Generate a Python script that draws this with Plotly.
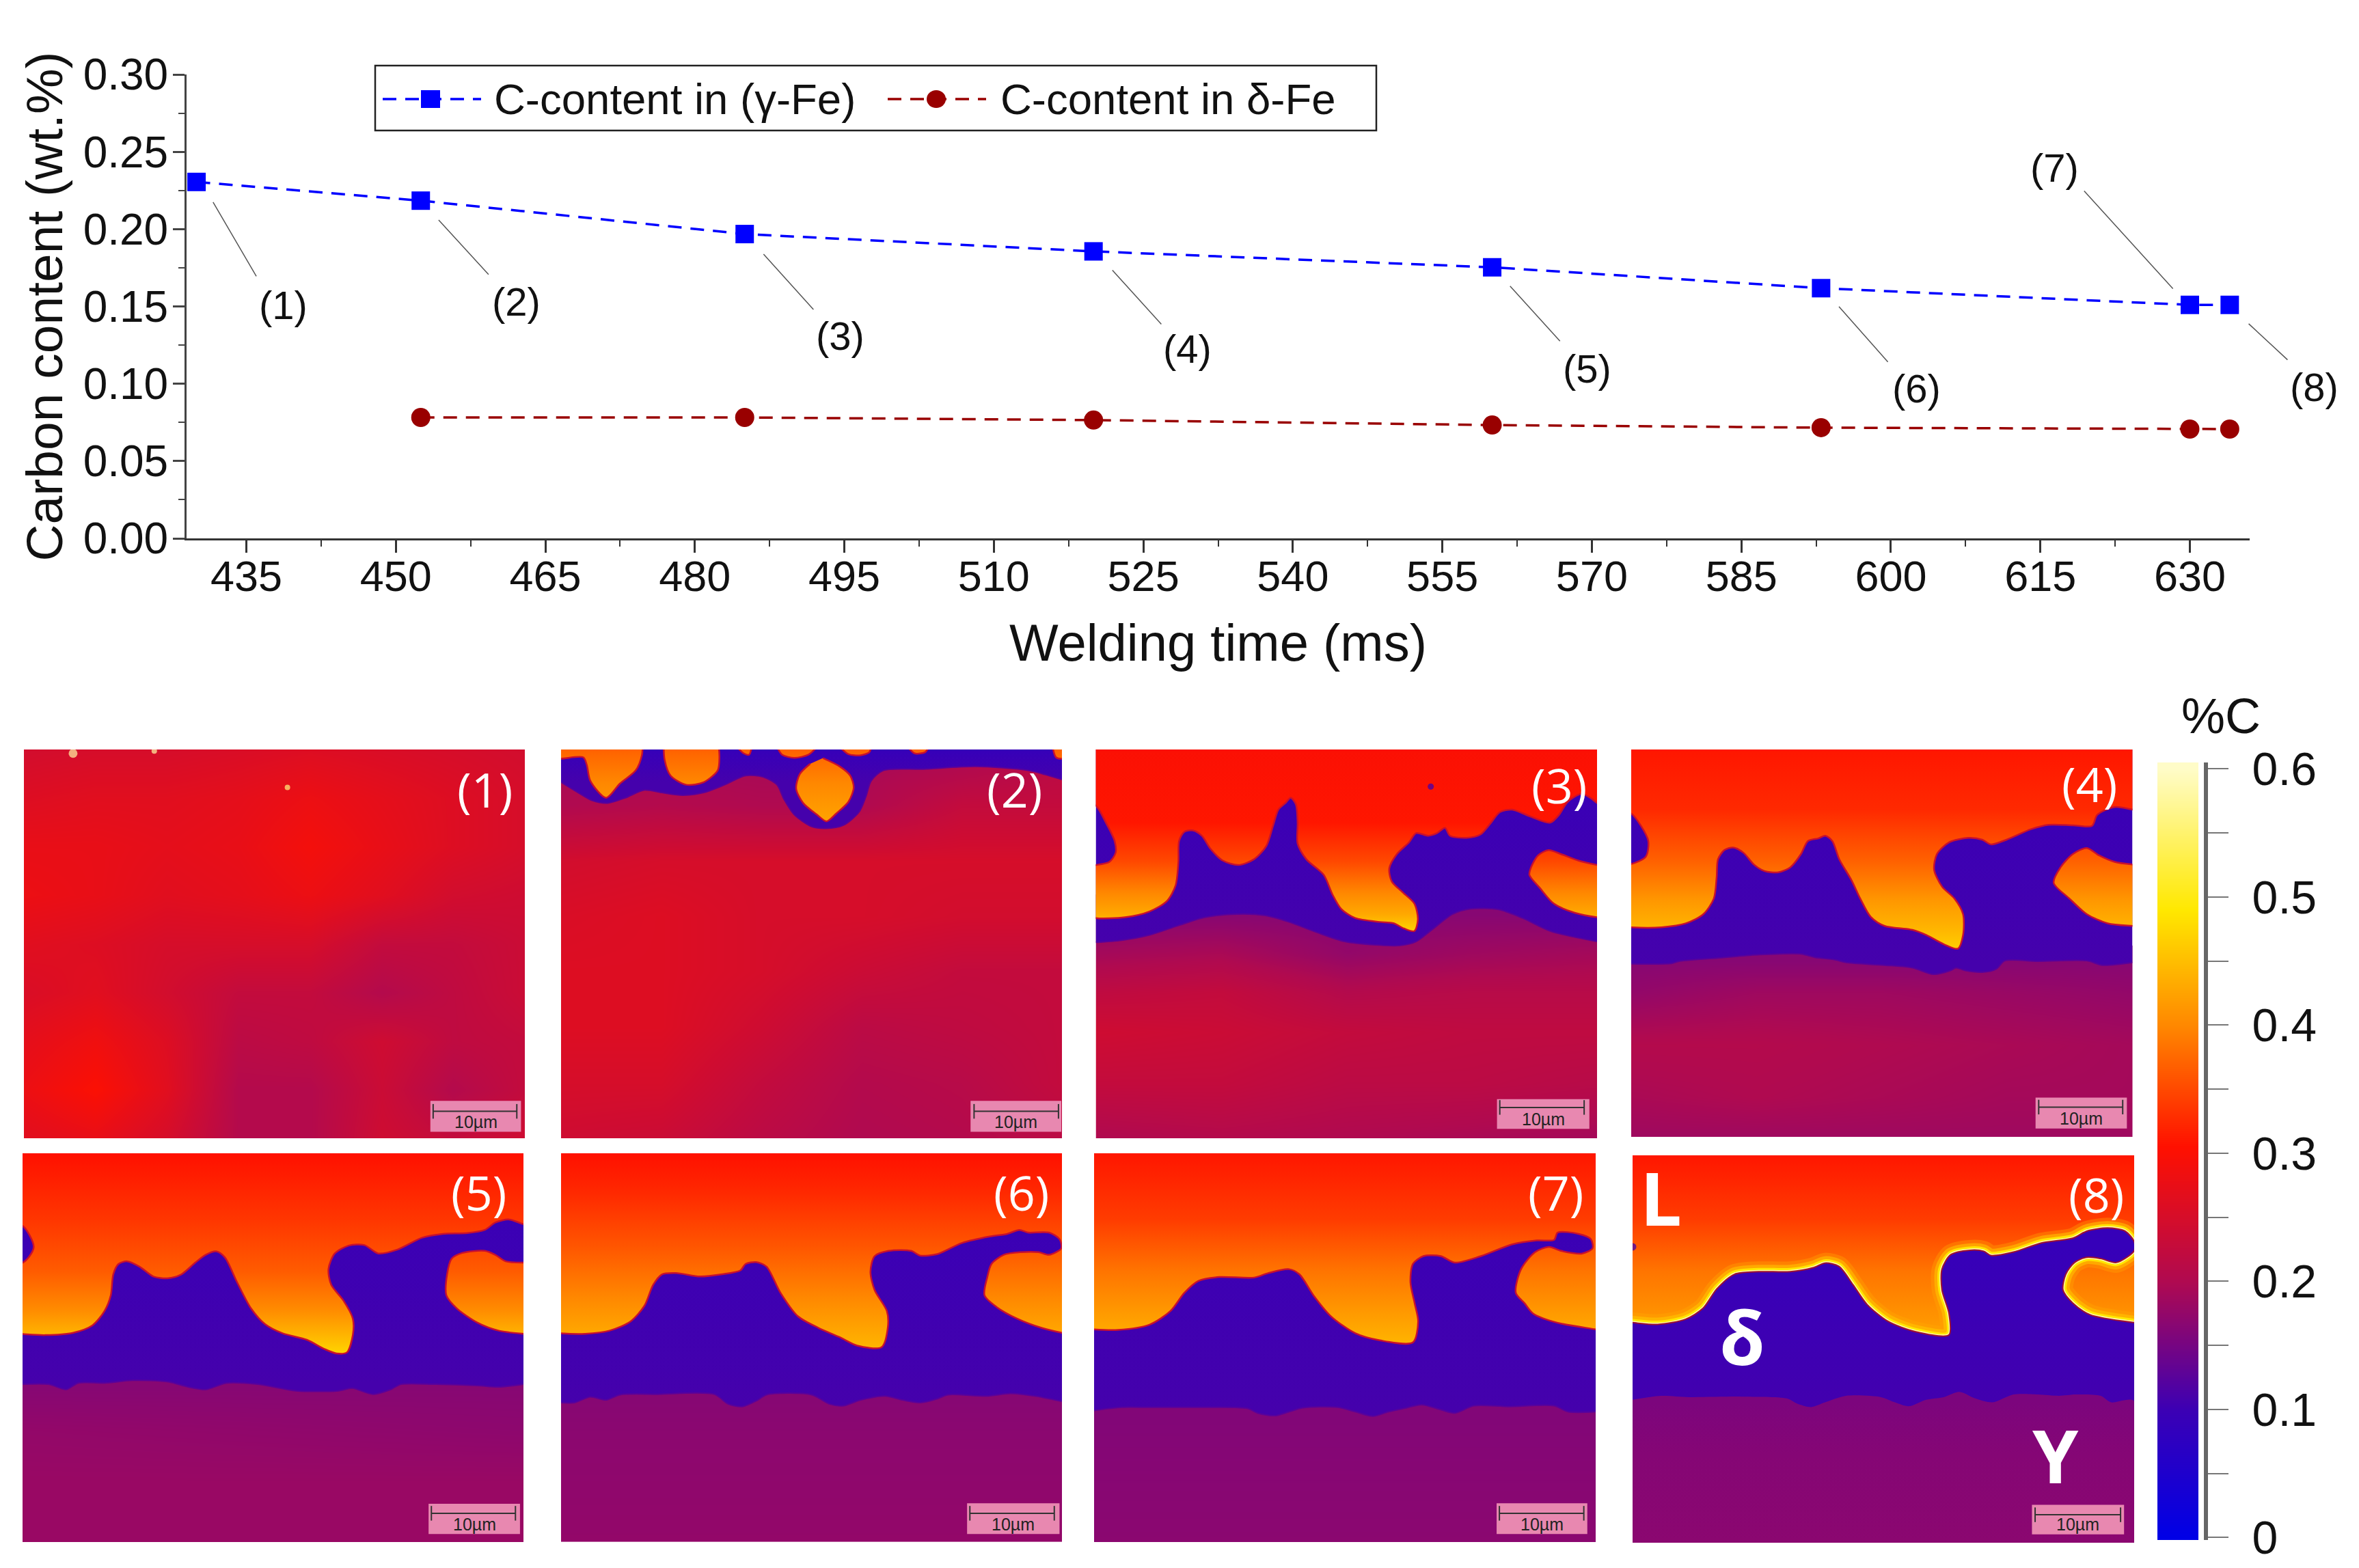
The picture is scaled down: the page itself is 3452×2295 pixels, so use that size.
import numpy as np
import plotly.graph_objects as go
from plotly.colors import sample_colorscale

FIG_W = 3452
FIG_H = 2295
FONT = "Liberation Sans"
PANEL_FONT = "Open Sans"

# ============================================================
# LINE CHART DATA
# ============================================================

GAMMA_TIME = [430, 452.5, 485, 520, 560, 593, 630, 634]
GAMMA_CARBON = [0.2305, 0.2184, 0.1968, 0.1856, 0.1753, 0.1618, 0.151, 0.151]
DELTA_TIME = [452.5, 485, 520, 560, 593, 630, 634]
DELTA_CARBON = [0.0782, 0.0782, 0.0765, 0.0733, 0.0716, 0.0707, 0.0707]

X_RANGE = [429, 636]
X_PIXELS = [273, 3292]

CALLOUT_TEXT = ["(1)", "(2)", "(3)", "(4)", "(5)", "(6)", "(7)", "(8)"]
CALLOUT_TIME = [438.7, 462.1, 494.6, 529.4, 569.5, 602.6, 616.4, 642.5]
CALLOUT_CARBON = [0.1507, 0.1529, 0.1312, 0.1224, 0.110, 0.0968, 0.2395, 0.0977]
LEADER_T0 = [431.6, 454.2, 486.8, 521.8, 561.7, 594.7, 619.3, 635.8]
LEADER_C0 = [0.2181, 0.2066, 0.1845, 0.1741, 0.1638, 0.1506, 0.2253, 0.1394]
LEADER_T1 = [436.0, 459.3, 491.9, 526.8, 566.8, 599.7, 628.3, 639.8]
LEADER_C1 = [0.1695, 0.1707, 0.148, 0.1385, 0.1276, 0.1141, 0.1615, 0.1155]

GAMMA_NAME = "C-content in (γ-Fe)"
DELTA_NAME = "C-content in δ-Fe"

# ============================================================
# COLOUR SCALE (%C)
# ============================================================

SCALE_C = [0, 0.1, 0.2, 0.305, 0.4, 0.49, 0.6]
SCALE_RGB = ["rgb(0,0,230)", "rgb(60,0,180)", "rgb(176,10,80)", "rgb(255,16,0)",
             "rgb(255,136,0)", "rgb(255,232,0)", "rgb(255,252,200)"]
COLORSCALE = [[c / 0.6, rgb] for c, rgb in zip(SCALE_C, SCALE_RGB)]
CBAR_VALUES = [0, 0.05, 0.1, 0.15, 0.2, 0.25, 0.3, 0.35, 0.4, 0.45, 0.5, 0.55, 0.6]
CBAR_LABELS = ["0", "", "0.1", "", "0.2", "", "0.3", "", "0.4", "", "0.5", "", "0.6"]

# ============================================================
# PANEL DATA: read off the micrographs, in crop pixels
# ============================================================

PANEL_XRANGE = [(69, 1506), (61, 1497), (46, 1484), (33, 1471),
                (65, 1501), (61, 1497), (41, 1479), (38, 1476)]
PANEL_YRANGE = [(70, 1558), (70, 1558), (70, 1558), (70, 1552),
                (47, 1533), (47, 1533), (47, 1533), (55, 1537)]
PANEL_PX_X = [(35, 768), (821, 1554), (1603.5, 2337), (2387, 3120.5),
              (33, 766), (821, 1554), (1601, 2335), (2389, 3123)]
PANEL_PX_Y = [(1097, 1666), (1097, 1666), (1097, 1666), (1097, 1664),
              (1688, 2257), (1688, 2257), (1688, 2257), (1691, 2258)]
PANEL_LABEL_POS = [(1392, 222), (1360, 222), (1375, 205), (1348, 200),
                   (1372, 195), (1380, 195), (1365, 195), (1367, 205)]

# scale bar: rectangle x0, y0, x1, y1 then line y, line x0, line x1
SCALE_RECT = [(1235, 1415, 1495, 1533), (1235, 1415, 1495, 1533), (1197, 1408, 1462, 1522),
              (1193, 1402, 1455, 1520), (1229, 1387, 1491, 1502), (1225, 1385, 1490, 1502),
              (1195, 1385, 1455, 1502), (1183, 1392, 1447, 1505)]
SCALE_LINE = [(1455, 1243, 1483), (1455, 1245, 1487), (1440, 1205, 1447), (1438, 1202, 1443),
              (1423, 1237, 1478), (1423, 1233, 1475), (1423, 1203, 1445), (1430, 1192, 1437)]

# gamma %C field, rows top to bottom
GAMMA_ROWS_1 = [70, 256, 442, 628, 814, 1000, 1186, 1372, 1558]
GAMMA_Z_1 = [
    [.245, .25, .25, .255, .26, .255, .25, .245],
    [.26, .265, .265, .27, .28, .27, .26, .25],
    [.275, .275, .27, .275, .29, .275, .26, .25],
    [.28, .275, .265, .27, .28, .265, .245, .24],
    [.265, .26, .25, .25, .25, .225, .225, .235],
    [.255, .265, .245, .225, .225, .205, .22, .235],
    [.27, .285, .26, .215, .22, .24, .22, .225],
    [.28, .30, .265, .205, .205, .235, .205, .225],
    [.265, .275, .25, .205, .205, .24, .225, .24],
]
GAMMA_ROWS_2 = [70, 283, 495, 708, 920, 1133, 1345, 1558]
GAMMA_Z_2 = [
    [.19, .19, .19, .19, .19, .21],
    [.20, .205, .20, .20, .225, .225],
    [.245, .25, .25, .25, .25, .25],
    [.255, .26, .25, .25, .245, .245],
    [.26, .26, .25, .235, .225, .225],
    [.26, .26, .24, .215, .22, .225],
    [.25, .25, .225, .205, .21, .225],
    [.24, .235, .215, .20, .205, .215],
]
GAMMA_ROWS_3 = [700, 850, 1000, 1150, 1350, 1558]
GAMMA_Z_3 = [
    [.165, .165, .165, .165, .165],
    [.19, .195, .175, .185, .19],
    [.22, .225, .205, .21, .21],
    [.24, .235, .225, .22, .22],
    [.225, .225, .215, .215, .21],
    [.20, .205, .20, .195, .19],
]
GAMMA_ROWS_4 = [880, 1000, 1200, 1400, 1552]
GAMMA_Z_4 = [
    [.165, .165, .165, .165, .165],
    [.175, .185, .185, .18, .175],
    [.205, .205, .20, .195, .19],
    [.195, .20, .195, .19, .19],
    [.185, .185, .185, .185, .185],
]
GAMMA_ROWS_5 = [950, 1100, 1300, 1533]
GAMMA_Z_5 = [[.165, .165], [.175, .17], [.18, .18], [.18, .18]]
GAMMA_ROWS_6 = [1000, 1200, 1533]
GAMMA_Z_6 = [[.165, .165], [.17, .17], [.175, .175]]
GAMMA_ROWS_7 = [1040, 1300, 1533]
GAMMA_Z_7 = [[.16, .16], [.165, .165], [.168, .168]]
GAMMA_ROWS_8 = [1000, 1200, 1537]
GAMMA_C_8 = [.155, .163, .168]

# liquid %C against depth
LIQ_Y_2 = [70, 200, 345]
LIQ_C_2 = [.37, .40, .425]
LIQ_Y_3 = [70, 350, 500, 620, 700, 765]
LIQ_C_3 = [.30, .31, .35, .40, .43, .47]
LIQ_Y_4 = [70, 300, 500, 650, 750, 830]
LIQ_C_4 = [.31, .325, .37, .415, .44, .465]
LIQ_Y_5 = [47, 300, 500, 650, 750, 810]
LIQ_C_5 = [.305, .335, .365, .405, .445, .47]
LIQ_Y_6 = [47, 200, 400, 600, 785]
LIQ_C_6 = [.305, .325, .36, .40, .44]
LIQ_Y_7 = [47, 300, 500, 650, 770]
LIQ_C_7 = [.31, .34, .385, .415, .44]
LIQ_Y_8 = [55, 300, 500, 700]
LIQ_C_8 = [.31, .34, .385, .415]

# delta / gamma boundary
BOUNDARY_2 = [(61, 195), (110, 235), (150, 265), (195, 275), (245, 255), (300, 225), (350, 235),
              (410, 245), (470, 235), (530, 205), (590, 170), (640, 175), (680, 205), (700, 260),
              (730, 320), (780, 365), (820, 372), (870, 360), (915, 310), (935, 250), (950, 190),
              (985, 150), (1100, 145), (1250, 135), (1400, 150), (1460, 170), (1497, 185)]
BOUNDARY_3 = [(46, 808), (120, 800), (200, 780), (280, 745), (360, 712), (450, 700), (530, 705),
              (600, 730), (680, 770), (760, 805), (850, 818), (920, 820), (965, 805), (1010, 760),
              (1070, 700), (1120, 680), (1200, 682), (1270, 715), (1350, 765), (1484, 805)]
BOUNDARY_4 = [(33, 890), (150, 888), (170, 880), (280, 868), (400, 855), (520, 852), (560, 865),
              (620, 875), (650, 885), (760, 895), (840, 905), (900, 930), (950, 915), (965, 905),
              (990, 915), (1040, 922), (1080, 910), (1105, 878), (1200, 880), (1340, 878),
              (1385, 895), (1471, 885)]
BOUNDARY_5 = [(65, 930), (140, 930), (190, 950), (225, 925), (300, 925), (380, 915), (480, 920),
              (540, 940), (590, 950), (650, 925), (740, 930), (850, 955), (970, 955), (1010, 945),
              (1070, 968), (1120, 950), (1150, 930), (1250, 930), (1370, 935), (1430, 940), (1501, 930)]
BOUNDARY_6 = [(61, 1000), (100, 1000), (145, 978), (190, 990), (230, 970), (340, 968), (500, 968),
              (540, 1005), (580, 1015), (625, 990), (650, 970), (780, 970), (830, 1005), (870, 1012),
              (920, 990), (990, 975), (1040, 990), (1090, 1000), (1140, 985), (1170, 970), (1280, 975),
              (1350, 965), (1420, 975), (1497, 995)]
BOUNDARY_7 = [(41, 1030), (120, 1018), (200, 1018), (350, 1018), (480, 1022), (510, 1040), (560, 1050),
              (600, 1035), (640, 1020), (740, 1018), (790, 1035), (840, 1052), (885, 1035), (930, 1022),
              (980, 1008), (1030, 1025), (1075, 1040), (1130, 1012), (1230, 1015), (1360, 1012),
              (1400, 1035), (1479, 1035)]
BOUNDARY_8 = [(38, 990), (120, 975), (200, 980), (350, 978), (480, 985), (510, 1005), (550, 1018),
              (590, 1000), (650, 975), (750, 980), (790, 1000), (830, 1015), (880, 990), (930, 980),
              (975, 960), (1020, 985), (1070, 1000), (1130, 970), (1200, 970), (1260, 975), (1310, 970),
              (1380, 975), (1410, 1000), (1476, 995)]

# liquid regions
LIQUID_2 = [
    [(20, 20), (20, 105), (61, 105), (125, 100), (135, 130), (145, 190), (190, 255), (230, 200),
     (275, 150), (293, 90), (295, 20)],
    [(355, 20), (358, 110), (375, 170), (420, 205), (470, 195), (510, 150), (515, 100), (510, 20)],
    [(565, 60), (585, 85), (600, 90), (608, 60)],
    [(680, 60), (695, 90), (730, 102), (770, 90), (795, 60)],
    [(860, 60), (885, 88), (920, 92), (945, 80), (950, 60)],
    [(1055, 60), (1075, 85), (1105, 80), (1115, 60)],
    [(1470, 60), (1480, 100), (1497, 105), (1530, 90), (1530, 60)],
    [(812, 103), (860, 135), (890, 170), (900, 215), (885, 270), (850, 315), (822, 345), (795, 320),
     (755, 275), (735, 220), (745, 165), (775, 125)],
]
LIQUID_3 = [
    [(10, 20), (10, 270), (46, 285), (75, 350), (100, 420), (103, 465), (85, 500), (46, 512), (10, 515),
     (10, 700), (46, 715), (130, 712), (200, 690), (250, 650), (275, 590), (283, 500), (285, 420),
     (300, 385), (325, 380), (350, 400), (375, 450), (410, 495), (455, 512), (500, 490), (535, 440),
     (555, 360), (570, 300), (590, 275), (605, 255), (620, 280), (625, 350), (625, 430), (650, 490),
     (700, 550), (725, 625), (750, 680), (790, 715), (860, 730), (900, 735), (930, 755), (960, 765),
     (970, 720), (960, 660), (925, 615), (895, 575), (888, 525), (910, 470), (945, 425), (965, 390),
     (1000, 400), (1025, 390), (1048, 370), (1062, 400), (1110, 408), (1150, 395), (1180, 350),
     (1205, 310), (1240, 300), (1290, 325), (1350, 350), (1375, 320), (1400, 270), (1440, 240),
     (1470, 260), (1484, 275), (1520, 280), (1520, 20)],
    [(1484, 512), (1430, 495), (1380, 470), (1345, 455), (1315, 475), (1295, 520), (1290, 550),
     (1320, 600), (1360, 660), (1420, 695), (1484, 712), (1520, 715), (1520, 510)],
]
LIQUID_4 = [
    [(0, 20), (0, 310), (33, 315), (60, 360), (82, 420), (75, 480), (33, 508), (0, 510), (0, 745),
     (33, 750), (120, 750), (190, 735), (240, 700), (270, 640), (278, 560), (282, 490), (300, 455),
     (325, 445), (355, 465), (385, 510), (415, 535), (455, 540), (490, 520), (520, 470), (540, 420),
     (570, 410), (590, 400), (610, 420), (630, 490), (665, 570), (690, 640), (720, 710), (760, 745),
     (840, 760), (880, 780), (930, 815), (970, 832), (985, 780), (985, 700), (960, 640), (925, 595),
     (902, 530), (910, 470), (945, 425), (1000, 408), (1040, 415), (1065, 433), (1110, 415),
     (1180, 375), (1230, 358), (1300, 360), (1355, 362), (1370, 320), (1420, 290), (1471, 300),
     (1510, 310), (1510, 20)],
    [(1471, 510), (1420, 500), (1375, 475), (1340, 447), (1300, 470), (1265, 520), (1245, 580),
     (1290, 640), (1340, 700), (1400, 735), (1471, 745), (1510, 748), (1510, 510)],
]
LIQUID_5 = [
    [(30, 10), (30, 320), (65, 325), (85, 360), (97, 405), (85, 440), (65, 465), (30, 470), (30, 735),
     (65, 738), (130, 742), (210, 733), (265, 705), (300, 650), (318, 590), (325, 510), (340, 470),
     (365, 460), (400, 480), (440, 518), (480, 525), (520, 510), (560, 465), (590, 435), (620, 422),
     (645, 445), (680, 540), (720, 640), (760, 700), (810, 735), (880, 760), (930, 795), (965, 812),
     (995, 808), (1012, 740), (1012, 680), (985, 610), (950, 550), (942, 490), (960, 430), (1000, 400),
     (1045, 398), (1085, 430), (1140, 415), (1210, 370), (1270, 355), (1340, 352), (1390, 340),
     (1420, 312), (1460, 300), (1501, 318), (1540, 325), (1540, 10)],
    [(1501, 465), (1450, 460), (1420, 435), (1390, 420), (1325, 428), (1295, 450), (1282, 510),
     (1280, 590), (1310, 640), (1370, 695), (1430, 725), (1501, 737), (1540, 740), (1540, 465)],
]
LIQUID_6 = [
    [(30, 10), (30, 730), (61, 735), (130, 737), (200, 725), (260, 690), (300, 630), (325, 550),
     (350, 510), (390, 505), (460, 518), (520, 510), (575, 495), (590, 470), (620, 463), (650, 480),
     (690, 580), (740, 670), (800, 715), (860, 750), (910, 782), (980, 788), (998, 710), (995, 650),
     (960, 570), (948, 500), (960, 440), (1000, 420), (1065, 420), (1090, 438), (1140, 432),
     (1210, 390), (1290, 365), (1340, 355), (1375, 340), (1400, 350), (1460, 350), (1490, 375),
     (1495, 410), (1460, 435), (1430, 425), (1380, 425), (1330, 435), (1295, 470), (1283, 520),
     (1275, 590), (1310, 635), (1370, 680), (1440, 715), (1497, 733), (1535, 740), (1535, 10)],
]
LIQUID_7 = [
    [(5, 10), (5, 715), (41, 720), (110, 722), (200, 702), (260, 650), (300, 580), (340, 535),
     (400, 520), (500, 522), (540, 505), (600, 490), (630, 510), (670, 590), (720, 670), (790, 735),
     (860, 762), (955, 770), (970, 690), (960, 620), (948, 540), (955, 470), (985, 440), (1035, 440),
     (1075, 465), (1150, 440), (1240, 395), (1310, 380), (1360, 378), (1370, 350), (1430, 355),
     (1465, 375), (1470, 410), (1440, 430), (1380, 420), (1345, 405), (1305, 425), (1265, 490),
     (1250, 580), (1275, 620), (1300, 660), (1370, 695), (1479, 720), (1520, 730), (1520, 10)],
]
LIQUID_8 = [
    [(0, 20), (0, 690), (38, 695), (110, 702), (190, 682), (240, 640), (280, 565), (330, 510),
     (400, 500), (490, 500), (555, 485), (590, 467), (630, 480), (670, 550), (710, 625), (770, 690),
     (850, 730), (945, 742), (945, 660), (925, 570), (925, 490), (950, 435), (1005, 418), (1045, 422),
     (1065, 438), (1130, 425), (1210, 390), (1300, 372), (1340, 345), (1400, 333), (1450, 345),
     (1476, 385), (1476, 420), (1425, 465), (1380, 450), (1340, 445), (1305, 465), (1280, 510),
     (1272, 570), (1300, 620), (1350, 665), (1476, 695), (1515, 700), (1515, 20)],
]

# specks: x, y, size, %C
SPECKS_1 = [(210, 85, 13, .58), (443, 76, 8, .58), (825, 215, 8, .56)]
SPECKS_3 = [(1007, 212, 9, .09)]
SPECKS_8 = [(38, 405, 11, .09)]

PANEL_GAMMA = [(GAMMA_ROWS_1, GAMMA_Z_1), (GAMMA_ROWS_2, GAMMA_Z_2), (GAMMA_ROWS_3, GAMMA_Z_3),
               (GAMMA_ROWS_4, GAMMA_Z_4), (GAMMA_ROWS_5, GAMMA_Z_5), (GAMMA_ROWS_6, GAMMA_Z_6),
               (GAMMA_ROWS_7, GAMMA_Z_7), None]
PANEL_BOUNDARY = [None, BOUNDARY_2, BOUNDARY_3, BOUNDARY_4, BOUNDARY_5, BOUNDARY_6, BOUNDARY_7, None]
PANEL_LIQUID = [[], LIQUID_2, LIQUID_3, LIQUID_4, LIQUID_5, LIQUID_6, LIQUID_7, []]
PANEL_LIQ_PROFILE = [None, (LIQ_Y_2, LIQ_C_2), (LIQ_Y_3, LIQ_C_3), (LIQ_Y_4, LIQ_C_4), (LIQ_Y_5, LIQ_C_5),
                     (LIQ_Y_6, LIQ_C_6), (LIQ_Y_7, LIQ_C_7), None]
PANEL_SPECKS = [SPECKS_1, [], SPECKS_3, [], [], [], [], SPECKS_8]


# ============================================================
# HELPERS
# ============================================================

def dom_x(a, b):
    return [a / FIG_W, b / FIG_W]


def dom_y(top, bottom):
    return [1 - bottom / FIG_H, 1 - top / FIG_H]


def time_to_paper(t):
    frac = (t - X_RANGE[0]) / (X_RANGE[1] - X_RANGE[0])
    return (X_PIXELS[0] + frac * (X_PIXELS[1] - X_PIXELS[0])) / FIG_W


def c_color(value):
    return sample_colorscale(COLORSCALE, [value / 0.6])[0]


def fill_gradient(ys, values):
    start, stop = ys[0], ys[-1]
    stops = [[(y - start) / (stop - start), c_color(v)] for y, v in zip(ys, values)]
    return dict(type="vertical", colorscale=stops, start=start, stop=stop)


def split(points):
    return [p[0] for p in points], [p[1] for p in points]


def region(points, xa, ya, fill="toself", gradient=None, color=None, line_color=None, line_width=0):
    x, y = split(points)
    kwargs = {}
    if gradient is not None:
        kwargs["fillgradient"] = gradient
    else:
        kwargs["fillcolor"] = color
    return go.Scatter(x=x, y=y, xaxis=xa, yaxis=ya, mode="lines", fill=fill, showlegend=False,
                      hoverinfo="skip",
                      line=dict(shape="spline", smoothing=0.8, width=line_width,
                                color=line_color or "rgba(0,0,0,0)"),
                      **kwargs)


# ============================================================
# FIGURE
# ============================================================

fig = go.Figure()
layout = {}
shapes = []
annotations = []

# line chart
fig.add_trace(go.Scatter(
    x=GAMMA_TIME, y=GAMMA_CARBON, mode="lines+markers", name=GAMMA_NAME, showlegend=False,
    line=dict(color="#0000ff", width=3.5, dash="20px,13px"),
    marker=dict(symbol="square", size=27, color="#0000ff"), cliponaxis=False,
))
fig.add_trace(go.Scatter(
    x=DELTA_TIME, y=DELTA_CARBON, mode="lines+markers", name=DELTA_NAME, showlegend=False,
    line=dict(color="#990000", width=3.5, dash="20px,13px"),
    marker=dict(symbol="circle", size=28, color="#990000"), cliponaxis=False,
))

layout["xaxis"] = dict(
    domain=dom_x(*X_PIXELS), range=X_RANGE, anchor="y", tick0=435, dtick=15,
    ticks="outside", ticklen=18, tickwidth=3, tickcolor="#333", showline=True,
    linecolor="#333", linewidth=3, showgrid=False, zeroline=False, ticklabelstandoff=-20,
    minor=dict(tick0=435, dtick=7.5, ticks="outside", ticklen=9, tickwidth=2, tickcolor="#333", showgrid=False),
    tickfont=dict(family=FONT, size=63, color="#111"),
    title=dict(text="Welding time (ms)", font=dict(family=FONT, size=76, color="#111"), standoff=38),
)
layout["yaxis"] = dict(
    domain=dom_y(109, 788), range=[0, 0.3], anchor="x", tick0=0, dtick=0.05, tickformat=".2f",
    ticks="outside", ticklen=17, tickwidth=3, tickcolor="#444", showline=True,
    linecolor="#444", linewidth=3, showgrid=False, zeroline=False, ticklabelstandoff=-6,
    minor=dict(tick0=0, dtick=0.025, ticks="outside", ticklen=9, tickwidth=2, tickcolor="#444", showgrid=False),
    tickfont=dict(family=FONT, size=64, color="#111"),
    title=dict(text="Carbon content (wt.%)", font=dict(family=FONT, size=75, color="#111"), standoff=6),
)

for i in range(8):
    annotations.append(dict(
        x=time_to_paper(CALLOUT_TIME[i]), y=CALLOUT_CARBON[i], xref="paper", yref="y", text=CALLOUT_TEXT[i],
        showarrow=False, xanchor="center", font=dict(family=FONT, size=58, color="#111"),
    ))
    annotations.append(dict(
        x=LEADER_T1[i], y=LEADER_C1[i], ax=LEADER_T0[i], ay=LEADER_C0[i], xref="x", yref="y",
        axref="x", ayref="y", text="", showarrow=True, arrowhead=0, arrowwidth=1.5, arrowcolor="#555",
    ))

# legend box, drawn by hand because plotly caps legend marker size
shapes.append(dict(type="rect", xref="paper", yref="paper", x0=549 / FIG_W, x1=2014 / FIG_W,
                   y0=1 - 191 / FIG_H, y1=1 - 96 / FIG_H, fillcolor="white", line=dict(color="#222", width=2.5)))
for px0, px1, mid, color, kind, name, text_px in [
    (560, 704, 630, "#0000ff", "rect", GAMMA_NAME, 721),
    (1299, 1443, 1370, "#990000", "circle", DELTA_NAME, 1462),
]:
    shapes.append(dict(type="line", xref="paper", yref="paper", x0=px0 / FIG_W, x1=px1 / FIG_W,
                       y0=1 - 145 / FIG_H, y1=1 - 145 / FIG_H, line=dict(color=color, width=3.5, dash="20px,13px")))
    shapes.append(dict(type=kind, xref="paper", yref="paper", x0=(mid - 14) / FIG_W, x1=(mid + 14) / FIG_W,
                       y0=1 - 158 / FIG_H, y1=1 - 132 / FIG_H, fillcolor=color, line_width=0))
    annotations.append(dict(x=text_px / FIG_W, y=1 - 145 / FIG_H, xref="paper", yref="paper", text=name,
                            showarrow=False, xanchor="left", yanchor="middle",
                            font=dict(family=FONT, size=63.5, color="#111")))

# micrograph panels
for i in range(8):
    n = i + 2
    xa, ya = f"x{n}", f"y{n}"
    x0, x1 = PANEL_XRANGE[i]
    y0, y1 = PANEL_YRANGE[i]
    layout[f"xaxis{n}"] = dict(domain=dom_x(*PANEL_PX_X[i]), range=[x0, x1], anchor=ya, visible=False)
    layout[f"yaxis{n}"] = dict(domain=dom_y(*PANEL_PX_Y[i]), range=[y1, y0], anchor=xa, visible=False)

    if PANEL_GAMMA[i] is not None:
        rows, z = PANEL_GAMMA[i]
        fig.add_trace(go.Heatmap(
            x=np.linspace(x0, x1, len(z[0])), y=rows, z=z, xaxis=xa, yaxis=ya, zsmooth="best",
            coloraxis="coloraxis", hoverinfo="skip",
        ))

    if PANEL_BOUNDARY[i] is not None:
        fig.add_trace(region(PANEL_BOUNDARY[i], xa, ya, fill="tozeroy",
                             gradient=fill_gradient([y0, PANEL_BOUNDARY[i][0][1]], [.09, .108]),
                             line_color=c_color(.125), line_width=2))
    for poly in PANEL_LIQUID[i]:
        fig.add_trace(region(poly, xa, ya, gradient=fill_gradient(*PANEL_LIQ_PROFILE[i]),
                             line_color="#c81030", line_width=2.5))

    if i == 7:
        # panel 8 has the bright rim along the interface, so it is stacked the other way round
        liq = LIQUID_8[0]
        fig.add_trace(region(liq, xa, ya, gradient=fill_gradient(LIQ_Y_8, LIQ_C_8)))
        lx, ly = split(liq[1:-1])
        for w, col in [(30, "rgba(255,170,0,0.35)"), (20, "rgba(255,200,0,0.55)"),
                       (11, "rgba(255,235,0,0.9)"), (5, "rgb(255,252,170)")]:
            fig.add_trace(go.Scatter(x=lx, y=ly, xaxis=xa, yaxis=ya, mode="lines", showlegend=False,
                                     hoverinfo="skip",
                                     line=dict(shape="spline", smoothing=0.8, width=w, color=col)))
        cover = liq[1:-1] + [(1515, 1650), (0, 1650)]
        fig.add_trace(region(cover, xa, ya, gradient=fill_gradient([400, 990], [.09, .105]),
                             line_color="#a01030", line_width=2))
        lower = BOUNDARY_8 + [(1476, 1650), (38, 1650)]
        fig.add_trace(region(lower, xa, ya, gradient=fill_gradient(GAMMA_ROWS_8, GAMMA_C_8)))

    if PANEL_SPECKS[i]:
        sx, sy, ss, sc = zip(*PANEL_SPECKS[i])
        fig.add_trace(go.Scatter(x=sx, y=sy, xaxis=xa, yaxis=ya, mode="markers", showlegend=False,
                                 hoverinfo="skip",
                                 marker=dict(size=list(ss), color=[c_color(c) for c in sc], line_width=0)))

    # label and scale bar
    lab_x, lab_y = PANEL_LABEL_POS[i]
    annotations.append(dict(x=lab_x, y=lab_y, xref=xa, yref=ya, text=f"({i + 1})", showarrow=False,
                            font=dict(family=PANEL_FONT, size=70, color="white")))
    rx0, ry0, rx1, ry1 = SCALE_RECT[i]
    shapes.append(dict(type="rect", xref=xa, yref=ya, x0=rx0, y0=ry0, x1=rx1, y1=ry1,
                       fillcolor="#e888b0", line_width=0))
    ly_, lx0, lx1 = SCALE_LINE[i]
    shapes.append(dict(type="line", xref=xa, yref=ya, x0=lx0, x1=lx1, y0=ly_, y1=ly_,
                       line=dict(color="#333", width=2)))
    for tick_x in (lx0, lx1):
        shapes.append(dict(type="line", xref=xa, yref=ya, x0=tick_x, x1=tick_x, y0=ly_ - 28, y1=ly_ + 28,
                           line=dict(color="#333", width=2)))
    annotations.append(dict(x=(rx0 + rx1) / 2, y=ry1 - 38, xref=xa, yref=ya, text="10µm", showarrow=False,
                            font=dict(family=FONT, size=25, color="#222")))

# phase letters in panel 8
for text, px, py in [("L", 120, 215), ("δ", 352, 748), ("Y", 1250, 1200)]:
    annotations.append(dict(x=px, y=py, xref="x9", yref="y9", text=f"<b>{text}</b>", showarrow=False,
                            font=dict(family=PANEL_FONT, size=108, color="white")))

# colour bar drawn as its own small heatmap
fig.add_trace(go.Heatmap(
    x=[0, 1], y=CBAR_VALUES, z=[[v, v] for v in CBAR_VALUES], xaxis="x10", yaxis="y10",
    zsmooth="best", coloraxis="coloraxis", hoverinfo="skip",
))
layout["xaxis10"] = dict(domain=dom_x(3157, 3217), range=[0, 1], anchor="y10", visible=False)
layout["yaxis10"] = dict(
    domain=dom_y(1116, 2254), range=[-0.002, 0.605], anchor="free", position=3228 / FIG_W, side="right",
    tickvals=CBAR_VALUES, ticktext=CBAR_LABELS, ticks="outside", ticklen=30, tickwidth=2, tickcolor="#777",
    showline=True, linecolor="#666", linewidth=6, showgrid=False, zeroline=False, ticklabelstandoff=21,
    tickfont=dict(family=FONT, size=68, color="#111"),
)
annotations.append(dict(x=3250 / FIG_W, y=1 - 1048 / FIG_H, xref="paper", yref="paper", text="%C",
                        showarrow=False, xanchor="center", yanchor="middle",
                        font=dict(family=FONT, size=72, color="#111")))

fig.update_layout(
    width=FIG_W, height=FIG_H, margin=dict(l=0, r=0, t=0, b=0, autoexpand=False),
    paper_bgcolor="white", plot_bgcolor="white", showlegend=False,
    coloraxis=dict(colorscale=COLORSCALE, cmin=0, cmax=0.6, showscale=False),
    shapes=shapes, annotations=annotations, **layout,
)

fig.write_html("out.html", post_script="document.body.style.margin='0';", config={"displayModeBar": False})
